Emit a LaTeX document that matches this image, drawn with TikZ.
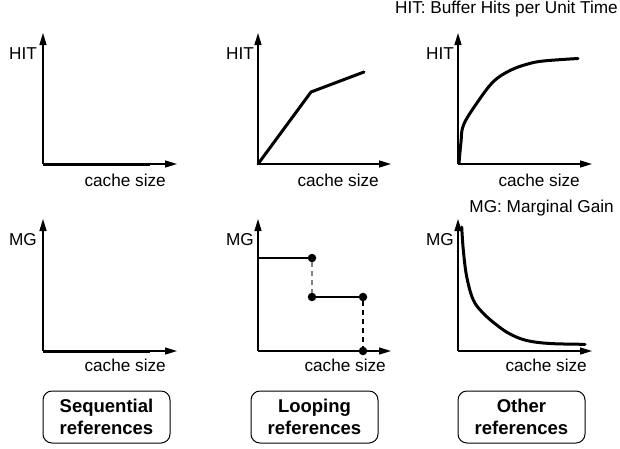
\documentclass[tikz,border=0pt]{standalone}
\usepackage{fontspec}
\setmainfont{Liberation Sans}
\usetikzlibrary{arrows.meta}
\begin{document}
\begin{tikzpicture}[x=1pt,y=-1pt,
  axis/.style={line width=1.3pt,-{Triangle[length=12pt,width=7pt]}},
  curve/.style={line width=3pt,line join=round,line cap=round},
  lbl/.style={font=\fontsize{17.2}{20}\selectfont,inner sep=0pt},
  dashln/.style={line width=1.3pt,dash pattern=on 5pt off 4pt},
  dot/.style={circle,fill=black,inner sep=0pt,minimum size=8.5pt},
  refbox/.style={draw,line width=1pt,rounded corners=9pt,minimum width=127pt,minimum height=52pt,align=center,inner sep=0pt,font=\fontsize{18.5}{22.5}\selectfont\bfseries}
]
\useasboundingbox (0,0) rectangle (620,448);
\fill[white] (0,0) rectangle (620,448);

% ---------- Panel 1 (top-left) ----------
\coordinate (o1) at (43,164);
\coordinate (y1) at (43,33);
\coordinate (x1) at (177,164);
\coordinate (e1) at (150,164);
\draw[axis] (o1) -- (y1);
\draw[axis] (o1) -- (x1);
\draw[line width=3pt] (o1) -- (e1);
\node[lbl,anchor=base east] (h1) at (37,59) {HIT};
\node[lbl,anchor=base east] (c1) at (166,186) {cache size};

% ---------- Panel 2 (top-middle) ----------
\coordinate (o2) at (258,164);
\coordinate (y2) at (258,33);
\coordinate (x2) at (391,164);
\coordinate (k2) at (311,92);
\coordinate (e2) at (364,72);
\draw[axis] (o2) -- (y2);
\draw[axis] (o2) -- (x2);
\draw[curve] (o2) -- (k2) -- (e2);
\node[lbl,anchor=base east] (h2) at (254,59) {HIT};
\node[lbl,anchor=base east] (c2) at (379,186) {cache size};

% ---------- Panel 3 (top-right) ----------
\coordinate (o3) at (458,164);
\coordinate (y3) at (458,33);
\coordinate (x3) at (592,164);
\draw[axis] (o3) -- (y3);
\draw[axis] (o3) -- (x3);
\draw[curve] plot[smooth,tension=0.6] coordinates {(459,163) (461,142) (463.5,125) (476.7,103.3) (493.3,81.7) (510,70.5) (526.7,64.3) (543.3,61) (578,58.5)};
\node[lbl,anchor=base east] (h3) at (454,59) {HIT};
\node[lbl,anchor=base east] (c3) at (580,186) {cache size};
\node[lbl,anchor=base east] (t3) at (618,13) {HIT: Buffer Hits per Unit Time};

% ---------- Panel 4 (bottom-left) ----------
\coordinate (o4) at (43,351);
\coordinate (y4) at (43,219);
\coordinate (x4) at (177,351);
\coordinate (e4) at (150,351);
\draw[axis] (o4) -- (y4);
\draw[axis] (o4) -- (x4);
\draw[line width=3pt] (o4) -- (e4);
\node[lbl,anchor=base east] (m4) at (37,245) {MG};
\node[lbl,anchor=base east] (c4) at (166,371) {cache size};
\node[refbox] (b4) at (106.5,417) {Sequential\\references};

% ---------- Panel 5 (bottom-middle) ----------
\coordinate (o5) at (258,351);
\coordinate (y5) at (258,219);
\coordinate (x5) at (391,351);
\coordinate (s5) at (258,258);
\node[dot] (d1) at (312,258) {};
\node[dot] (d2) at (312,297) {};
\node[dot] (d3) at (363,297) {};
\node[dot] (d4) at (363,351) {};
\draw[axis] (o5) -- (y5);
\draw[axis] (o5) -- (x5);
\draw[line width=2.5pt] (s5) -- (d1.center);
\draw[line width=2.5pt] (d2.center) -- (d3.center);
\draw[dashln,gray] (d1) -- (d2);
\draw[dashln] (d3) -- (d4);
\node[lbl,anchor=base east] (m5) at (254,245) {MG};
\node[lbl,anchor=base east] (c5) at (386,371) {cache size};
\node[refbox] (b5) at (314.5,417) {Looping\\references};

% ---------- Panel 6 (bottom-right) ----------
\coordinate (o6) at (458,351);
\coordinate (y6) at (458,219);
\coordinate (x6) at (592,351);
\draw[axis] (o6) -- (y6);
\draw[axis] (o6) -- (x6);
\draw[curve] plot[smooth,tension=0.6] coordinates {(461.7,227) (463.3,250) (466.7,276.7) (473.3,300) (483.3,313.3) (496.7,325) (510,334) (526.7,340.5) (550,343.5) (585,344.3)};
\node[lbl,anchor=base east] (m6) at (454,245) {MG};
\node[lbl,anchor=base east] (c6) at (587,371) {cache size};
\node[lbl,anchor=base east] (t6) at (614,212) {MG: Marginal Gain};
\node[refbox] (b6) at (521.5,417) {Other\\references};
\end{tikzpicture}
\end{document}
